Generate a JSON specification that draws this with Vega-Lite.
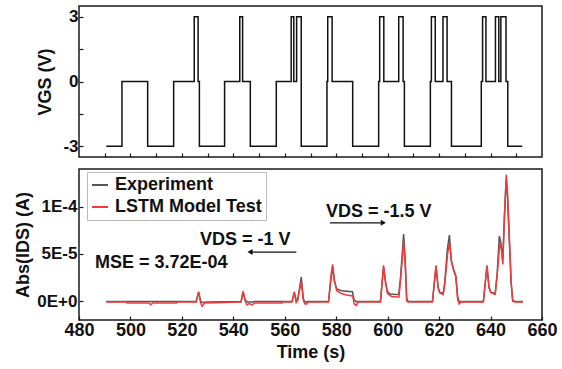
{
  "$schema": "https://vega.github.io/schema/vega-lite/v6.json",
  "padding": {"left": 14, "top": 5, "right": 5, "bottom": 5},
  "spacing": 9,
  "config": {
    "font": "Liberation Sans",
    "view": {"stroke": "#1a1a1a", "strokeWidth": 1.5},
    "axis": {"grid": false, "domain": false, "tickColor": "#1a1a1a", "tickWidth": 1.2, "labelFlush": false,
      "labelFont": "Liberation Sans", "labelFontWeight": "bold", "labelFontSize": 17, "labelColor": "#111",
      "titleFont": "Liberation Sans", "titleFontWeight": "bold", "titleFontSize": 18, "titleColor": "#111"},
    "legend": {"labelFont": "Liberation Sans", "labelFontWeight": "bold", "labelFontSize": 18, "labelColor": "#111"}
  },
  "datasets": {
    "vgs": [
      {"t": 490.6, "v": -3}, {"t": 496.7, "v": 0}, {"t": 506.7, "v": -3}, {"t": 516.8, "v": 0},
      {"t": 524.8, "v": 3}, {"t": 526.3, "v": 0}, {"t": 526.8, "v": -3}, {"t": 536.6, "v": 0},
      {"t": 542.5, "v": 3}, {"t": 543.6, "v": 0}, {"t": 546.6, "v": -3}, {"t": 556.7, "v": 0},
      {"t": 562.5, "v": 3}, {"t": 563.5, "v": 0}, {"t": 564.6, "v": 3}, {"t": 566.4, "v": -3},
      {"t": 576.4, "v": 0}, {"t": 576.7, "v": 3}, {"t": 578.4, "v": 0}, {"t": 586.4, "v": -3},
      {"t": 596.5, "v": 0}, {"t": 596.9, "v": 3}, {"t": 598.5, "v": 0}, {"t": 604.3, "v": 3},
      {"t": 606.0, "v": 0}, {"t": 606.5, "v": -3}, {"t": 616.6, "v": 0}, {"t": 617.0, "v": 3},
      {"t": 618.5, "v": 0}, {"t": 621.5, "v": 3}, {"t": 623.1, "v": 0}, {"t": 624.8, "v": -3},
      {"t": 636.4, "v": 0}, {"t": 636.9, "v": 3}, {"t": 638.2, "v": 0}, {"t": 641.9, "v": 3},
      {"t": 643.2, "v": 0}, {"t": 644.0, "v": 3}, {"t": 646.0, "v": 0}, {"t": 646.7, "v": -3},
      {"t": 652.3, "v": -3}
    ],
    "cur": [
      {"s": "Experiment", "t": 490.6, "I": -0.5e-6}, {"s": "Experiment", "t": 525.5, "I": -0.5e-6},
      {"s": "Experiment", "t": 526.5, "I": 9.5e-6}, {"s": "Experiment", "t": 527.3, "I": 0},
      {"s": "Experiment", "t": 527.8, "I": -1.5e-6}, {"s": "Experiment", "t": 530, "I": -0.8e-6},
      {"s": "Experiment", "t": 543, "I": -0.5e-6}, {"s": "Experiment", "t": 543.8, "I": 9.5e-6},
      {"s": "Experiment", "t": 544.6, "I": 1e-6}, {"s": "Experiment", "t": 545.5, "I": -1e-6},
      {"s": "Experiment", "t": 547.5, "I": -1e-6}, {"s": "Experiment", "t": 548.5, "I": -0.5e-6},
      {"s": "Experiment", "t": 562.8, "I": -0.5e-6}, {"s": "Experiment", "t": 563.7, "I": 9e-6},
      {"s": "Experiment", "t": 564.5, "I": 0.5e-6}, {"s": "Experiment", "t": 565.0, "I": 1e-6},
      {"s": "Experiment", "t": 566.4, "I": 2.55e-5}, {"s": "Experiment", "t": 567.2, "I": 3e-6},
      {"s": "Experiment", "t": 567.8, "I": -1.5e-6}, {"s": "Experiment", "t": 568.6, "I": -0.5e-6},
      {"s": "Experiment", "t": 577.0, "I": -0.5e-6}, {"s": "Experiment", "t": 578.0, "I": 2.4e-5},
      {"s": "Experiment", "t": 578.6, "I": 3.6e-5}, {"s": "Experiment", "t": 579.3, "I": 2.1e-5},
      {"s": "Experiment", "t": 580.2, "I": 1.3e-5}, {"s": "Experiment", "t": 582.0, "I": 1.1e-5},
      {"s": "Experiment", "t": 584.0, "I": 1.05e-5}, {"s": "Experiment", "t": 586.3, "I": 1.0e-5},
      {"s": "Experiment", "t": 586.9, "I": 2e-6}, {"s": "Experiment", "t": 587.6, "I": -0.5e-6},
      {"s": "Experiment", "t": 597.2, "I": -0.5e-6}, {"s": "Experiment", "t": 598.4, "I": 3.6e-5},
      {"s": "Experiment", "t": 599.2, "I": 2.0e-5}, {"s": "Experiment", "t": 599.9, "I": 1.0e-5},
      {"s": "Experiment", "t": 601, "I": 7.5e-6}, {"s": "Experiment", "t": 603, "I": 7e-6},
      {"s": "Experiment", "t": 604.3, "I": 7e-6}, {"s": "Experiment", "t": 605.0, "I": 2.5e-5},
      {"s": "Experiment", "t": 606.2, "I": 7.1e-5}, {"s": "Experiment", "t": 606.8, "I": 4.5e-5},
      {"s": "Experiment", "t": 607.4, "I": 3e-6}, {"s": "Experiment", "t": 608, "I": -0.5e-6},
      {"s": "Experiment", "t": 617.4, "I": -0.5e-6}, {"s": "Experiment", "t": 618.8, "I": 3.7e-5},
      {"s": "Experiment", "t": 619.6, "I": 1.5e-5}, {"s": "Experiment", "t": 620.2, "I": 9.5e-6},
      {"s": "Experiment", "t": 621.6, "I": 8.5e-6}, {"s": "Experiment", "t": 622.2, "I": 2e-5},
      {"s": "Experiment", "t": 623.2, "I": 5.5e-5}, {"s": "Experiment", "t": 624.0, "I": 7.0e-5},
      {"s": "Experiment", "t": 624.8, "I": 4.2e-5}, {"s": "Experiment", "t": 625.6, "I": 3.3e-5},
      {"s": "Experiment", "t": 626.5, "I": 2.6e-5}, {"s": "Experiment", "t": 627.2, "I": 5e-6},
      {"s": "Experiment", "t": 627.8, "I": -0.5e-6}, {"s": "Experiment", "t": 637.2, "I": -0.5e-6},
      {"s": "Experiment", "t": 638.6, "I": 3.7e-5}, {"s": "Experiment", "t": 639.4, "I": 1.5e-5},
      {"s": "Experiment", "t": 640.1, "I": 9.5e-6}, {"s": "Experiment", "t": 641.8, "I": 8e-6},
      {"s": "Experiment", "t": 642.6, "I": 3e-5}, {"s": "Experiment", "t": 643.4, "I": 6.9e-5},
      {"s": "Experiment", "t": 644.0, "I": 6.2e-5}, {"s": "Experiment", "t": 644.7, "I": 4.4e-5},
      {"s": "Experiment", "t": 645.4, "I": 9e-5}, {"s": "Experiment", "t": 646.1, "I": 1.29e-4},
      {"s": "Experiment", "t": 646.6, "I": 1.1e-4}, {"s": "Experiment", "t": 647.2, "I": 7e-5},
      {"s": "Experiment", "t": 648.0, "I": 2e-5}, {"s": "Experiment", "t": 648.6, "I": 1e-6},
      {"s": "Experiment", "t": 649.5, "I": -0.5e-6}, {"s": "Experiment", "t": 652.6, "I": -0.5e-6},

      {"s": "LSTM Model Test", "t": 490.6, "I": -1e-6}, {"s": "LSTM Model Test", "t": 498.4, "I": -1e-6},
      {"s": "LSTM Model Test", "t": 498.6, "I": -2e-6}, {"s": "LSTM Model Test", "t": 507.3, "I": -2e-6},
      {"s": "LSTM Model Test", "t": 507.9, "I": -4e-6}, {"s": "LSTM Model Test", "t": 508.6, "I": -2e-6},
      {"s": "LSTM Model Test", "t": 518, "I": -2e-6}, {"s": "LSTM Model Test", "t": 518.3, "I": -1e-6},
      {"s": "LSTM Model Test", "t": 525.6, "I": -1e-6}, {"s": "LSTM Model Test", "t": 526.5, "I": 1.0e-5},
      {"s": "LSTM Model Test", "t": 527.3, "I": -2e-6}, {"s": "LSTM Model Test", "t": 527.9, "I": -5.5e-6},
      {"s": "LSTM Model Test", "t": 528.8, "I": -2e-6}, {"s": "LSTM Model Test", "t": 543.0, "I": -1e-6},
      {"s": "LSTM Model Test", "t": 543.8, "I": 1.05e-5}, {"s": "LSTM Model Test", "t": 544.6, "I": 0},
      {"s": "LSTM Model Test", "t": 545.3, "I": -4e-6}, {"s": "LSTM Model Test", "t": 546.2, "I": -2.5e-6},
      {"s": "LSTM Model Test", "t": 547.3, "I": -4e-6}, {"s": "LSTM Model Test", "t": 548.3, "I": -2e-6},
      {"s": "LSTM Model Test", "t": 559, "I": -2e-6}, {"s": "LSTM Model Test", "t": 559.3, "I": -1e-6},
      {"s": "LSTM Model Test", "t": 562.8, "I": -1e-6}, {"s": "LSTM Model Test", "t": 563.7, "I": 1.0e-5},
      {"s": "LSTM Model Test", "t": 564.4, "I": -1.5e-6}, {"s": "LSTM Model Test", "t": 565.0, "I": 1e-6},
      {"s": "LSTM Model Test", "t": 566.4, "I": 2.1e-5}, {"s": "LSTM Model Test", "t": 567.2, "I": 1e-6},
      {"s": "LSTM Model Test", "t": 567.8, "I": -3e-6}, {"s": "LSTM Model Test", "t": 568.5, "I": -3e-6},
      {"s": "LSTM Model Test", "t": 569.0, "I": -1e-6}, {"s": "LSTM Model Test", "t": 577.0, "I": -1e-6},
      {"s": "LSTM Model Test", "t": 578.0, "I": 2.8e-5}, {"s": "LSTM Model Test", "t": 578.6, "I": 3.9e-5},
      {"s": "LSTM Model Test", "t": 579.3, "I": 2.2e-5}, {"s": "LSTM Model Test", "t": 580.2, "I": 1.1e-5},
      {"s": "LSTM Model Test", "t": 582.0, "I": 8e-6}, {"s": "LSTM Model Test", "t": 584.0, "I": 6.5e-6},
      {"s": "LSTM Model Test", "t": 586.4, "I": 5.5e-6}, {"s": "LSTM Model Test", "t": 587.0, "I": -3e-6},
      {"s": "LSTM Model Test", "t": 587.8, "I": -4.5e-6}, {"s": "LSTM Model Test", "t": 588.5, "I": -1e-6},
      {"s": "LSTM Model Test", "t": 597.2, "I": -1e-6}, {"s": "LSTM Model Test", "t": 598.4, "I": 3.8e-5},
      {"s": "LSTM Model Test", "t": 599.2, "I": 1.9e-5}, {"s": "LSTM Model Test", "t": 599.9, "I": 8e-6},
      {"s": "LSTM Model Test", "t": 601.5, "I": 5e-6}, {"s": "LSTM Model Test", "t": 603.5, "I": 4.5e-6},
      {"s": "LSTM Model Test", "t": 604.4, "I": 4.5e-6}, {"s": "LSTM Model Test", "t": 605.1, "I": 2.5e-5},
      {"s": "LSTM Model Test", "t": 606.2, "I": 6.3e-5}, {"s": "LSTM Model Test", "t": 606.8, "I": 4e-5},
      {"s": "LSTM Model Test", "t": 607.4, "I": 0}, {"s": "LSTM Model Test", "t": 608, "I": -1e-6},
      {"s": "LSTM Model Test", "t": 617.4, "I": -1e-6}, {"s": "LSTM Model Test", "t": 618.8, "I": 3.8e-5},
      {"s": "LSTM Model Test", "t": 619.6, "I": 1.4e-5}, {"s": "LSTM Model Test", "t": 620.2, "I": 9e-6},
      {"s": "LSTM Model Test", "t": 621.6, "I": 7e-6}, {"s": "LSTM Model Test", "t": 622.2, "I": 1.8e-5},
      {"s": "LSTM Model Test", "t": 623.3, "I": 5e-5}, {"s": "LSTM Model Test", "t": 624.0, "I": 6.2e-5},
      {"s": "LSTM Model Test", "t": 624.8, "I": 4.2e-5}, {"s": "LSTM Model Test", "t": 625.6, "I": 3.4e-5},
      {"s": "LSTM Model Test", "t": 626.5, "I": 2.7e-5}, {"s": "LSTM Model Test", "t": 627.2, "I": 2e-6},
      {"s": "LSTM Model Test", "t": 627.8, "I": -3e-6}, {"s": "LSTM Model Test", "t": 628.5, "I": -1e-6},
      {"s": "LSTM Model Test", "t": 637.2, "I": -1e-6}, {"s": "LSTM Model Test", "t": 638.6, "I": 3.8e-5},
      {"s": "LSTM Model Test", "t": 639.4, "I": 1.4e-5}, {"s": "LSTM Model Test", "t": 640.1, "I": 9e-6},
      {"s": "LSTM Model Test", "t": 641.8, "I": 7e-6}, {"s": "LSTM Model Test", "t": 642.6, "I": 2.8e-5},
      {"s": "LSTM Model Test", "t": 643.6, "I": 6.2e-5}, {"s": "LSTM Model Test", "t": 644.2, "I": 5.5e-5},
      {"s": "LSTM Model Test", "t": 644.8, "I": 3.9e-5}, {"s": "LSTM Model Test", "t": 645.4, "I": 9e-5},
      {"s": "LSTM Model Test", "t": 646.1, "I": 1.34e-4}, {"s": "LSTM Model Test", "t": 646.6, "I": 1.15e-4},
      {"s": "LSTM Model Test", "t": 647.2, "I": 7.5e-5}, {"s": "LSTM Model Test", "t": 648.0, "I": 2e-5},
      {"s": "LSTM Model Test", "t": 648.6, "I": 0}, {"s": "LSTM Model Test", "t": 649.5, "I": -1e-6},
      {"s": "LSTM Model Test", "t": 652.6, "I": -1e-6}
    ],
    "notes": [
      {"t": 527.0, "I": 6.5e-5, "label": "VDS = -1 V"},
      {"t": 486.2, "I": 4.04e-5, "label": "MSE = 3.72E-04"},
      {"t": 576.0, "I": 9.44e-5, "label": "VDS = -1.5 V"}
    ],
    "arrows": [
      {"id": "a", "t": 546.5, "I": 5.2e-5, "head": "left"},
      {"id": "a", "t": 564.5, "I": 5.2e-5, "head": "none"},
      {"id": "b", "t": 577.6, "I": 8.3e-5, "head": "none"},
      {"id": "b", "t": 598.3, "I": 8.3e-5, "head": "right"}
    ]
  },
  "vconcat": [
    {
      "width": 463,
      "height": 151,
      "data": {"name": "vgs"},
      "mark": {"type": "line", "interpolate": "step-after", "color": "#111", "strokeWidth": 1.5},
      "encoding": {
        "x": {"field": "t", "type": "quantitative",
          "scale": {"domain": [480, 660], "nice": false, "zero": false},
          "axis": {"title": null, "labels": false,
            "values": [490, 500, 510, 520, 530, 540, 550, 560, 570, 580, 590, 600, 610, 620, 630, 640, 650],
            "tickSize": -4}},
        "y": {"field": "v", "type": "quantitative",
          "scale": {"domain": [-3.5, 3.5], "nice": false, "zero": false},
          "axis": {"title": "VGS (V)", "values": [-3, -1.5, 0, 1.5, 3],
            "labelExpr": "datum.value % 3 === 0 ? toString(datum.value) : ''",
            "labelPadding": 5, "titlePadding": 8, "tickSize": -4}}
      }
    },
    {
      "width": 463,
      "height": 151,
      "layer": [
        {
          "data": {"name": "cur"},
          "mark": {"type": "line", "strokeWidth": 1.5},
          "encoding": {
            "x": {"field": "t", "type": "quantitative",
              "scale": {"domain": [480, 660], "nice": false, "zero": false},
              "axis": {"title": "Time (s)", "labelFontSize": 18, "labelPadding": 5, "titlePadding": 4,
                "values": [480, 490, 500, 510, 520, 530, 540, 550, 560, 570, 580, 590, 600, 610, 620, 630, 640, 650, 660],
                "labelExpr": "datum.value % 20 === 0 ? datum.label : ''",
                "tickSize": -4}},
            "y": {"field": "I", "type": "quantitative",
              "scale": {"domain": [-2e-5, 1.4e-4], "nice": false, "zero": false},
              "axis": {"title": "Abs(IDS) (A)", "values": [0, 2.5e-5, 5e-5, 7.5e-5, 1e-4, 1.25e-4],
                "labelExpr": "datum.value < 1e-9 ? '0E+0' : (abs(datum.value - 5e-5) < 1e-9 ? '5E-5' : (abs(datum.value - 1e-4) < 1e-9 ? '1E-4' : ''))",
                "labelPadding": 6, "titlePadding": 4, "tickSize": -4}},
            "color": {"field": "s", "type": "nominal",
              "scale": {"domain": ["Experiment", "LSTM Model Test"], "range": ["#555555", "#f23a3a"]},
              "legend": {"title": null, "orient": "none", "legendX": 8, "legendY": 166,
                "symbolType": "stroke", "symbolSize": 256, "symbolStrokeWidth": 2,
                "labelOffset": 6, "rowPadding": 4, "padding": 4, "strokeColor": "#bbbbbb"}}
          }
        },
        {
          "mark": {"type": "rule", "color": "#111", "strokeWidth": 1.5, "strokeDash": [5, 3]},
          "encoding": {"x": {"datum": 572}}
        },
        {
          "data": {"name": "notes"},
          "mark": {"type": "text", "align": "left", "baseline": "middle", "fontSize": 18, "fontWeight": "bold", "color": "#111", "font": "Liberation Sans"},
          "encoding": {
            "x": {"field": "t", "type": "quantitative"},
            "y": {"field": "I", "type": "quantitative"},
            "text": {"field": "label"}
          }
        },
        {
          "data": {"name": "arrows"},
          "mark": {"type": "line", "color": "#111", "strokeWidth": 1.2},
          "encoding": {
            "x": {"field": "t", "type": "quantitative"},
            "y": {"field": "I", "type": "quantitative"},
            "detail": {"field": "id"}
          }
        },
        {
          "data": {"name": "arrows"},
          "transform": [{"filter": "datum.head !== 'none'"}],
          "mark": {"type": "point", "filled": true, "color": "#111", "opacity": 1, "size": 35},
          "encoding": {
            "x": {"field": "t", "type": "quantitative"},
            "y": {"field": "I", "type": "quantitative"},
            "shape": {"field": "head", "type": "nominal",
              "scale": {"domain": ["left", "right"], "range": ["triangle-left", "triangle-right"]},
              "legend": null}
          }
        }
      ]
    }
  ]
}
